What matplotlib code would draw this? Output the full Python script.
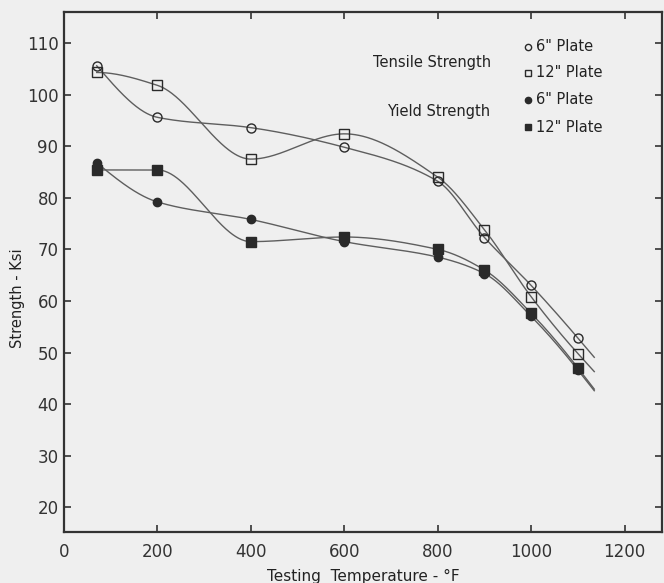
import matplotlib.pyplot as plt
import numpy as np

temps = [70, 200, 400, 600, 800, 900, 1000, 1100]
tensile_6 = [105.6, 95.6, 93.6, 89.8, 83.2, 72.3, 63.0, 52.8]
tensile_12 = [104.3, 101.8, 87.5, 92.4, 84.0, 73.8, 60.8, 49.8]
yield_6 = [86.8, 79.2, 75.8, 71.5, 68.5, 65.3, 57.0, 46.6]
yield_12 = [85.4, 85.4, 71.5, 72.4, 70.0, 66.0, 57.6, 47.0]

x_ticks = [0, 200, 400, 600, 800, 1000, 1200]
y_ticks = [20, 30, 40, 50, 60, 70, 80, 90, 100, 110]

line_col = '#5e5e5e'
mark_col = '#2a2a2a'
text_col = '#222222'


def pchip(x, y, x_end):
  # monotone cubic through the points, straight run past the last one
  x = np.asarray(x, float)
  y = np.asarray(y, float)
  n = len(x)
  h = np.diff(x)
  dl = np.diff(y) / h
  d = np.zeros(n)
  for k in range(1, n - 1):
    if dl[k - 1] * dl[k] > 0:
      w1 = 2 * h[k] + h[k - 1]
      w2 = h[k] + 2 * h[k - 1]
      d[k] = (w1 + w2) / (w1 / dl[k - 1] + w2 / dl[k])
  def end(h0, h1, m0, m1):
    s = ((2 * h0 + h1) * m0 - h0 * m1) / (h0 + h1)
    if np.sign(s) != np.sign(m0):
      s = 0.0
    elif np.sign(m0) != np.sign(m1) and abs(s) > abs(3 * m0):
      s = 3 * m0
    return s
  d[0] = end(h[0], h[1], dl[0], dl[1])
  d[-1] = end(h[-1], h[-2], dl[-1], dl[-2])
  xs = np.linspace(x[0], x[-1], 500)
  idx = np.clip(np.searchsorted(x, xs) - 1, 0, n - 2)
  t = (xs - x[idx]) / h[idx]
  hh = h[idx]
  ys = (y[idx] * (2 * t**3 - 3 * t**2 + 1) + d[idx] * hh * (t**3 - 2 * t**2 + t)
        + y[idx + 1] * (-2 * t**3 + 3 * t**2) + d[idx + 1] * hh * (t**3 - t**2))
  xe = np.linspace(x[-1], x_end, 20)
  ye = y[-1] + d[-1] * (xe - x[-1])
  return np.concatenate([xs, xe]), np.concatenate([ys, ye])


fig = plt.figure(figsize=(6.64, 5.83), dpi=100, facecolor='#efefef')
ax = fig.add_axes([0.0964, 0.0875, 0.9006, 0.8917])
ax.set_facecolor('#efefef')

series = [(tensile_6, 'o', 'none', 6.5),
          (tensile_12, 's', 'none', 6.5),
          (yield_6, 'o', mark_col, 6.0),
          (yield_12, 's', mark_col, 6.5)]

for vals, m, fc, ms in series:
  xs, ys = pchip(temps, vals, 1135)
  ax.plot(xs, ys, color=line_col, lw=1.0, zorder=2)
  ax.plot(temps, vals, ls='none', marker=m, ms=ms, mfc=fc, mec=mark_col,
          mew=1.0, zorder=3)

ax.set_xlim(0, 1280)
ax.set_ylim(15.2, 116)
ax.set_xticks(x_ticks)
ax.set_yticks(y_ticks)
ax.tick_params(direction='in', length=5, width=1.2, colors='#333333',
               labelsize=12, top=True, right=True)
ax.tick_params(axis='x', pad=8)
ax.tick_params(axis='y', pad=4)
for s in ax.spines.values():
  s.set_linewidth(1.6)
  s.set_color('#333333')

ax.set_xlabel('Testing  Temperature - °F', fontsize=11, color=text_col)
ax.xaxis.set_label_coords(0.50, -0.071)
ax.set_ylabel('Strength - Ksi', fontsize=10.5, color=text_col)
ax.yaxis.set_label_coords(-0.066, 0.45)

# legend drawn by hand
ax.text(0.615, 0.904, 'Tensile Strength', transform=ax.transAxes,
        ha='center', va='center', fontsize=10.5, color=text_col)
ax.text(0.627, 0.808, 'Yield Strength', transform=ax.transAxes,
        ha='center', va='center', fontsize=10.5, color=text_col)
leg_labels = ['6" Plate', '12" Plate', '6" Plate', '12" Plate']
leg_y = [0.933, 0.883, 0.831, 0.779]
for (vals, m, fc, ms), lab, yy in zip(series, leg_labels, leg_y):
  ax.plot([0.776], [yy], transform=ax.transAxes, marker=m, ms=4.5,
          mfc=fc, mec=mark_col, mew=1.0, ls='none', clip_on=False)
  ax.text(0.789, yy, lab, transform=ax.transAxes, ha='left', va='center',
          fontsize=10.5, color=text_col)

fig.savefig('out.png', dpi=100, facecolor=fig.get_facecolor())
